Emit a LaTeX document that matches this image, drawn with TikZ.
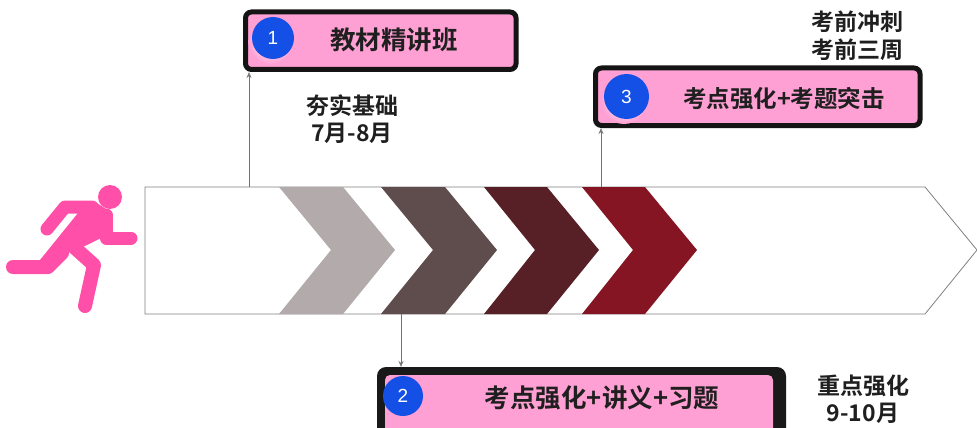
\documentclass[tikz,border=0pt]{standalone}
\usepackage{fontspec}
\setmainfont{Liberation Sans}
\newfontfamily\cjkb{Noto Sans CJK SC Bold}
\usetikzlibrary{arrows.meta}
\definecolor{pinkfill}{HTML}{FFA0D4}
\definecolor{runpink}{HTML}{FF4FA8}
\definecolor{badge}{HTML}{1550E6}
\definecolor{chevA}{HTML}{B3AAAB}
\definecolor{chevB}{HTML}{5F4C4C}
\definecolor{chevC}{HTML}{562026}
\definecolor{chevD}{HTML}{851522}
\tikzset{
  x=1pt,y=-1pt,
  stagebox/.style={draw=black!92,line width=5pt,fill=pinkfill,rounded corners=6pt,inner sep=0pt,outer sep=0pt,anchor=north west},
  badgecircle/.style={circle,fill=badge,text=white,inner sep=0pt,font=\fontsize{19}{19}\selectfont},
  glow/.style={inner color=white,outer color=pinkfill},
  title/.style={font=\cjkb\fontsize{25.5}{28}\selectfont,text=black!88,inner sep=0pt},
  note/.style={font=\cjkb\fontsize{23}{27.5}\selectfont,text=black!88,inner sep=0pt,align=center},
  link/.style={draw=black!55,line width=0.8pt,-{Stealth[length=6pt,width=5pt,open]}},
  limb/.style={draw=runpink,line width=13pt,line cap=round,line join=round},
}
\begin{document}
\begin{tikzpicture}
\useasboundingbox (0,0) rectangle (977,428);
\clip (0,0) rectangle (977,428);
% main arrow
\draw[draw=black!50,line width=0.8pt,fill=white] (145,187) -- (925,187) -- (977,250) -- (925,314) -- (145,314) -- cycle;
% chevrons
\fill[chevA] (279,187) -- (343,187) -- (395,250) -- (343,314) -- (279,314) -- (331,250) -- cycle;
\fill[chevB] (381,187) -- (445,187) -- (497,250) -- (445,314) -- (381,314) -- (433,250) -- cycle;
\fill[chevC] (484,187) -- (547,187) -- (599,250) -- (547,314) -- (484,314) -- (535,250) -- cycle;
\fill[chevD] (582,187) -- (645,187) -- (697,250) -- (645,314) -- (582,314) -- (633,250) -- cycle;
% runner
\fill[runpink] (110,197) circle[radius=12];
\fill[runpink] (78,205) -- (94,201) -- (112,213) -- (112,232) -- (101,232) -- (101,238) -- (87,245) -- (68,253) -- (50,272) -- (40,260) -- (78,213) -- cycle;
\draw[limb] (47,229) -- (65,207) -- (92,207);
\draw[limb] (106,215) -- (106,238) -- (131,238);
\draw[limb,line width=14pt] (13,267) -- (48,267) -- (62,253);
\draw[limb,line width=14pt] (85,306) -- (94,265) -- (75,248);
% stage boxes
\node[stagebox,minimum width=270.5pt,minimum height=57.5pt] (box1) at (245.5,12) {};
\node[stagebox,minimum width=324.5pt,minimum height=57.5pt] (box3) at (595.5,68) {};
\node[stagebox,draw=none,fill=black!90,rounded corners=9pt,minimum width=409pt,minimum height=80pt] (box2) at (377,367) {};
\node[stagebox,draw=none,rounded corners=5pt,minimum width=388pt,minimum height=60pt] (box2in) at (385,375) {};
% soft highlight under the badges
\shade[glow] (270.5,42) circle[radius=22];
\shade[glow] (624,101) circle[radius=23];
% badges
\node[badgecircle,minimum size=42pt] (b1) at (273,38) {1};
\node[badgecircle,minimum size=40pt] (b2) at (403,396) {2};
\node[badgecircle,minimum size=45pt] (b3) at (626.5,96.5) {3};
% titles
\node[title] (t1) at (394,40) {教材精讲班};
\node[title] (t2) at (602,398) {考点强化+讲义+习题};
\node[title,font=\cjkb\fontsize{23.5}{26}\selectfont] (t3) at (784,99) {考点强化+考题突击};
% notes
\node[note] (n1) at (352,119) {夯实基础\\7月-8月};
\node[note] (n3) at (857,36) {考前冲刺\\考前三周};
\node[note] (n2) at (863,399) {重点强化\\9-10月};
% connectors
\coordinate (c1) at (249,187);
\coordinate (c2) at (401,314);
\coordinate (c3) at (601,187);
\draw[link] (c1) -- ([yshift=-2.5pt]c1 |- box1.south);
\draw[link] (c2) -- (c2 |- box2.north);
\draw[link] (c3) -- ([yshift=-2.5pt]c3 |- box3.south);
\end{tikzpicture}
\end{document}
